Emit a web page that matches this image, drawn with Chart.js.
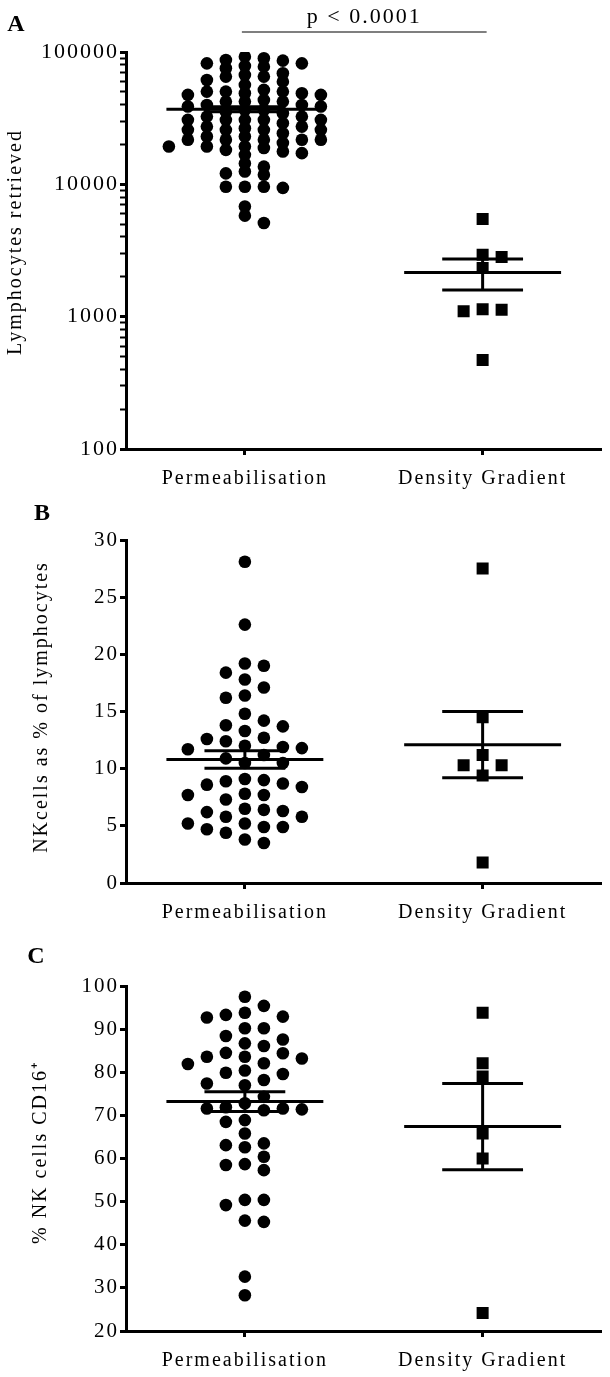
<!DOCTYPE html>
<html>
<head>
<meta charset="utf-8">
<script src="https://cdn.jsdelivr.net/npm/chart.js@4.4.0/dist/chart.umd.min.js"></script>
<style>
  body { margin: 0; background: #fff; width: 610px; height: 1377px; position: relative; overflow: hidden; }
  canvas { position: absolute; left: 0; }
</style>
</head>
<body>
<canvas id="chartA" width="610" height="500" style="top:0"></canvas>
<canvas id="chartB" width="610" height="435" style="top:495px"></canvas>
<canvas id="chartC" width="610" height="447" style="top:930px"></canvas>
<script>
const categories = ['Permeabilisation', 'Density Gradient'];

// A - lymphocytes retrieved (log axis)
const lymphTicks = [100, 1000, 10000, 100000];
const lymphPerm = [
  92200, 69000, 51700, 42200, 30700, 26500, 21700,
  86000, 65200, 50200, 42200, 36500, 30700, 25800, 21700, 18200,
  82100, 61500, 48800, 39800, 32500, 27300, 23000, 19300, 16700,
  77500, 56400, 47400, 38700, 30700, 25800, 21700, 19300,
  78400, 59700, 50200, 43400, 36500, 30700, 25800, 21700, 18800,
  82100, 67100, 47400, 38700, 32500, 27300, 23000, 19300, 17200,
  87000, 65200, 48800, 39800, 34400, 29000, 24300, 20500, 17700,
  89600, 75300, 50200, 42200, 35400, 30700, 25800, 21700,
  12100, 9600, 9600, 13600, 14400, 9400, 9600, 11800, 12500, 6800, 5100, 5800
];
const lymphDensity = [5460, 2940, 2820, 2330, 1130, 1100, 1140, 470];
const lymphMean = [37000, 2160];
const lymphSem = [1600, 570];

// B - NK cells as % of lymphocytes
const nkTicks = [0, 5, 10, 15, 20, 25, 30];
const nkPerm = [
  28.1, 22.6, 19.0, 19.2, 18.4, 17.1, 17.8, 16.2, 16.4, 14.2, 13.7, 13.3, 13.8, 14.8,
  12.6, 12.0, 11.8, 11.7, 11.9, 12.4, 12.7, 11.2, 10.9, 10.5, 10.5, 8.7, 8.4, 9.0, 9.1,
  8.9, 8.6, 7.7, 7.3, 7.7, 7.8, 6.4, 6.2, 5.8, 5.2, 5.8, 6.3, 6.5, 5.2, 4.9, 4.4, 3.5,
  3.8, 4.7, 4.9
];
const nkDensity = [27.5, 14.5, 11.2, 10.3, 10.3, 9.4, 1.8];
const nkMean = [10.8, 12.1];
const nkSem = [0.77, 2.9];

// C - % NK cells CD16+
const cd16Ticks = [20, 30, 40, 50, 60, 70, 80, 90, 100];
const cd16Perm = [
  97.5, 95.4, 93.8, 92.9, 92.7, 93.3, 90.2, 90.2, 87.6, 86.1, 86.7, 88.4, 83.6, 83.2,
  84.4, 84.5, 83.6, 81.9, 82.1, 79.9, 79.6, 80.4, 78.2, 77.4, 77.0, 74.3, 72.8, 71.6,
  71.4, 71.2, 71.6, 71.9, 68.9, 68.5, 65.8, 63.5, 62.6, 63.1, 60.4, 58.5, 57.3, 58.7,
  50.4, 50.4, 49.2, 45.6, 45.3, 32.6, 28.3
];
const cd16Density = [93.8, 82.1, 79.0, 65.8, 60.0, 24.2];
const cd16Mean = [73.2, 67.4];
const cd16Sem = [2.3, 10.0];

const SERIF = '"Liberation Serif", "Times New Roman", serif';
Chart.defaults.font.family = SERIF;
Chart.defaults.color = '#000';

const MEAN_HALF = 0.33;
const SEM_HALF = 0.17;
const SWARM_STEP = 19;

// the original uses a slightly spaced-out Times face
const spacingPlugin = {
  id: 'spacing',
  beforeLayout(chart) { chart.ctx.letterSpacing = '2px'; },
  beforeDraw(chart) { chart.ctx.letterSpacing = '2px'; }
};

// panel letter, rotated y title and the p-value bracket
const annotatePlugin = {
  id: 'annotate',
  afterDraw(chart, args, o) {
    const ctx = chart.ctx;
    ctx.save();
    ctx.fillStyle = '#000';
    ctx.textAlign = 'center';
    ctx.textBaseline = 'middle';
    ctx.font = 'bold 24px ' + SERIF;
    ctx.fillText(o.letter, o.letterX, o.letterY);
    ctx.save();
    ctx.font = '20px ' + SERIF;
    ctx.translate(o.titleX, o.titleY);
    ctx.rotate(-Math.PI / 2);
    ctx.fillText(o.title, 0, 0);
    ctx.restore();
    if (o.pText) {
      const xs = chart.scales.x;
      const x1 = xs.getPixelForValue(1) - 3;
      const x2 = xs.getPixelForValue(2) + 4;
      const y = chart.chartArea.top - 20;
      ctx.strokeStyle = '#7f7f7f';
      ctx.lineWidth = 2;
      ctx.beginPath();
      ctx.moveTo(x1, y);
      ctx.lineTo(x2, y);
      ctx.stroke();
      ctx.font = '22px ' + SERIF;
      ctx.textBaseline = 'alphabetic';
      ctx.fillText(o.pText, (x1 + x2) / 2, y - 9);
    }
    ctx.restore();
  }
};

function summaryLines(center, mean, sem) {
  const line = pts => ({
    data: pts, showLine: true, borderColor: '#000', borderWidth: 3,
    pointRadius: 0, borderCapStyle: 'butt'
  });
  return [
    line([{ x: center - MEAN_HALF, y: mean }, { x: center + MEAN_HALF, y: mean }]),
    line([{ x: center - SEM_HALF, y: mean + sem }, { x: center + SEM_HALF, y: mean + sem }]),
    line([{ x: center - SEM_HALF, y: mean - sem }, { x: center + SEM_HALF, y: mean - sem }]),
    line([{ x: center, y: mean - sem }, { x: center, y: mean + sem }])
  ];
}

function swarmSet(values, center, style, radius, minDy) {
  return {
    data: values.map(v => ({ x: center, y: v })),
    swarm: { values, center, minDy },
    pointStyle: style, pointRadius: radius,
    backgroundColor: '#000', borderWidth: 0, showLine: false
  };
}

// Prism-like dot spreading: nearest free slot on a half-step grid
function swarmLayout(chart) {
  const xs = chart.scales.x, ys = chart.scales.y;
  const pxPerUnit = xs.getPixelForValue(2) - xs.getPixelForValue(1);
  chart.data.datasets.forEach(ds => {
    if (!ds.swarm) return;
    const { values, center, minDy } = ds.swarm;
    const pts = values.map(v => ({ v, py: ys.getPixelForValue(v) })).sort((a, b) => a.py - b.py);
    const placed = [];
    pts.forEach(p => {
      for (let i = 0; i < 80; i++) {
        const k = i === 0 ? 0 : (i % 2 ? (i + 1) / 2 : -i / 2);
        const dx = k * SWARM_STEP / 2;
        const free = placed.every(q => Math.abs(q.dx - dx) >= SWARM_STEP - 0.01 || Math.abs(q.py - p.py) >= minDy);
        if (free) { p.dx = dx; break; }
      }
      placed.push(p);
    });
    ds.data = placed.map(p => ({ x: center + p.dx / pxPerUnit, y: p.v }));
  });
  chart.update('none');
}

function makePanel(id, cfg) {
  const chart = new Chart(document.getElementById(id), {
    type: 'scatter',
    data: {
      datasets: [
        ...summaryLines(1, cfg.mean[0], cfg.sem[0]),
        ...summaryLines(2, cfg.mean[1], cfg.sem[1]),
        swarmSet(cfg.perm, 1, 'circle', 6.3, cfg.minDy),
        swarmSet(cfg.density, 2, 'rect', 8.5, 12)
      ]
    },
    options: {
      responsive: false,
      animation: false,
      events: [],
      layout: { padding: { top: cfg.top, right: 5, left: 0, bottom: 0 } },
      plugins: { legend: { display: false }, tooltip: { enabled: false }, annotate: cfg.annotate },
      scales: {
        x: {
          type: 'linear', min: 0.5, max: 2.5,
          afterBuildTicks: s => { s.ticks = [{ value: 1 }, { value: 2 }]; },
          afterFit: s => { s.height = cfg.xHeight; },
          grid: { drawOnChartArea: false, drawTicks: true, tickLength: 6, tickWidth: 3, tickColor: '#000' },
          border: { color: '#000', width: 3 },
          ticks: { callback: (v, i) => categories[i], font: { size: 20 }, padding: 12, maxRotation: 0, autoSkip: false }
        },
        y: cfg.y
      }
    },
    plugins: [spacingPlugin, annotatePlugin]
  });
  swarmLayout(chart);
  return chart;
}

const yGrid = { drawOnChartArea: false, drawTicks: true, tickLength: 6, tickWidth: 3, tickColor: '#000' };
const yBorder = { color: '#000', width: 3 };

makePanel('chartA', {
  perm: lymphPerm, density: lymphDensity, mean: lymphMean, sem: lymphSem,
  minDy: 8, top: 52, xHeight: 51,
  annotate: { letter: 'A', letterX: 17, letterY: 25, title: 'Lymphocytes retrieved', titleX: 16, titleY: 242, pText: 'p < 0.0001' },
  y: {
    type: 'logarithmic', min: lymphTicks[0], max: lymphTicks[lymphTicks.length - 1],
    afterFit: s => { s.width = 126; },
    afterBuildTicks: s => {
      const t = [];
      lymphTicks.forEach((d, i) => {
        if (i === lymphTicks.length - 1) { t.push({ value: d }); return; }
        for (let m = 1; m < 10; m++) t.push({ value: d * m });
      });
      s.ticks = t;
    },
    grid: Object.assign({}, yGrid, { tickWidth: c => lymphTicks.includes(c.tick && c.tick.value) ? 3 : 2 }),
    border: yBorder,
    ticks: { autoSkip: false, padding: 1, font: { size: 22 }, callback: v => lymphTicks.includes(v) ? String(v) : '' }
  }
});

makePanel('chartB', {
  perm: nkPerm, density: nkDensity, mean: nkMean, sem: nkSem,
  minDy: 14, top: 45, xHeight: 47,
  annotate: { letter: 'B', letterX: 43, letterY: 19, title: 'NKcells as % of lymphocytes', titleX: 42, titleY: 212 },
  y: {
    type: 'linear', min: nkTicks[0], max: nkTicks[nkTicks.length - 1],
    afterFit: s => { s.width = 126; },
    afterBuildTicks: s => { s.ticks = nkTicks.map(v => ({ value: v })); },
    grid: yGrid, border: yBorder,
    ticks: { autoSkip: false, padding: 1, font: { size: 21 } }
  }
});

makePanel('chartC', {
  perm: cd16Perm, density: cd16Density, mean: cd16Mean, sem: cd16Sem,
  minDy: 13, top: 56, xHeight: 46,
  annotate: { letter: 'C', letterX: 37, letterY: 27, title: '% NK cells CD16\u207A', titleX: 41, titleY: 222 },
  y: {
    type: 'linear', min: cd16Ticks[0], max: cd16Ticks[cd16Ticks.length - 1],
    afterFit: s => { s.width = 126; },
    afterBuildTicks: s => { s.ticks = cd16Ticks.map(v => ({ value: v })); },
    grid: yGrid, border: yBorder,
    ticks: { autoSkip: false, padding: 1, font: { size: 21 } }
  }
});
</script>
</body>
</html>
